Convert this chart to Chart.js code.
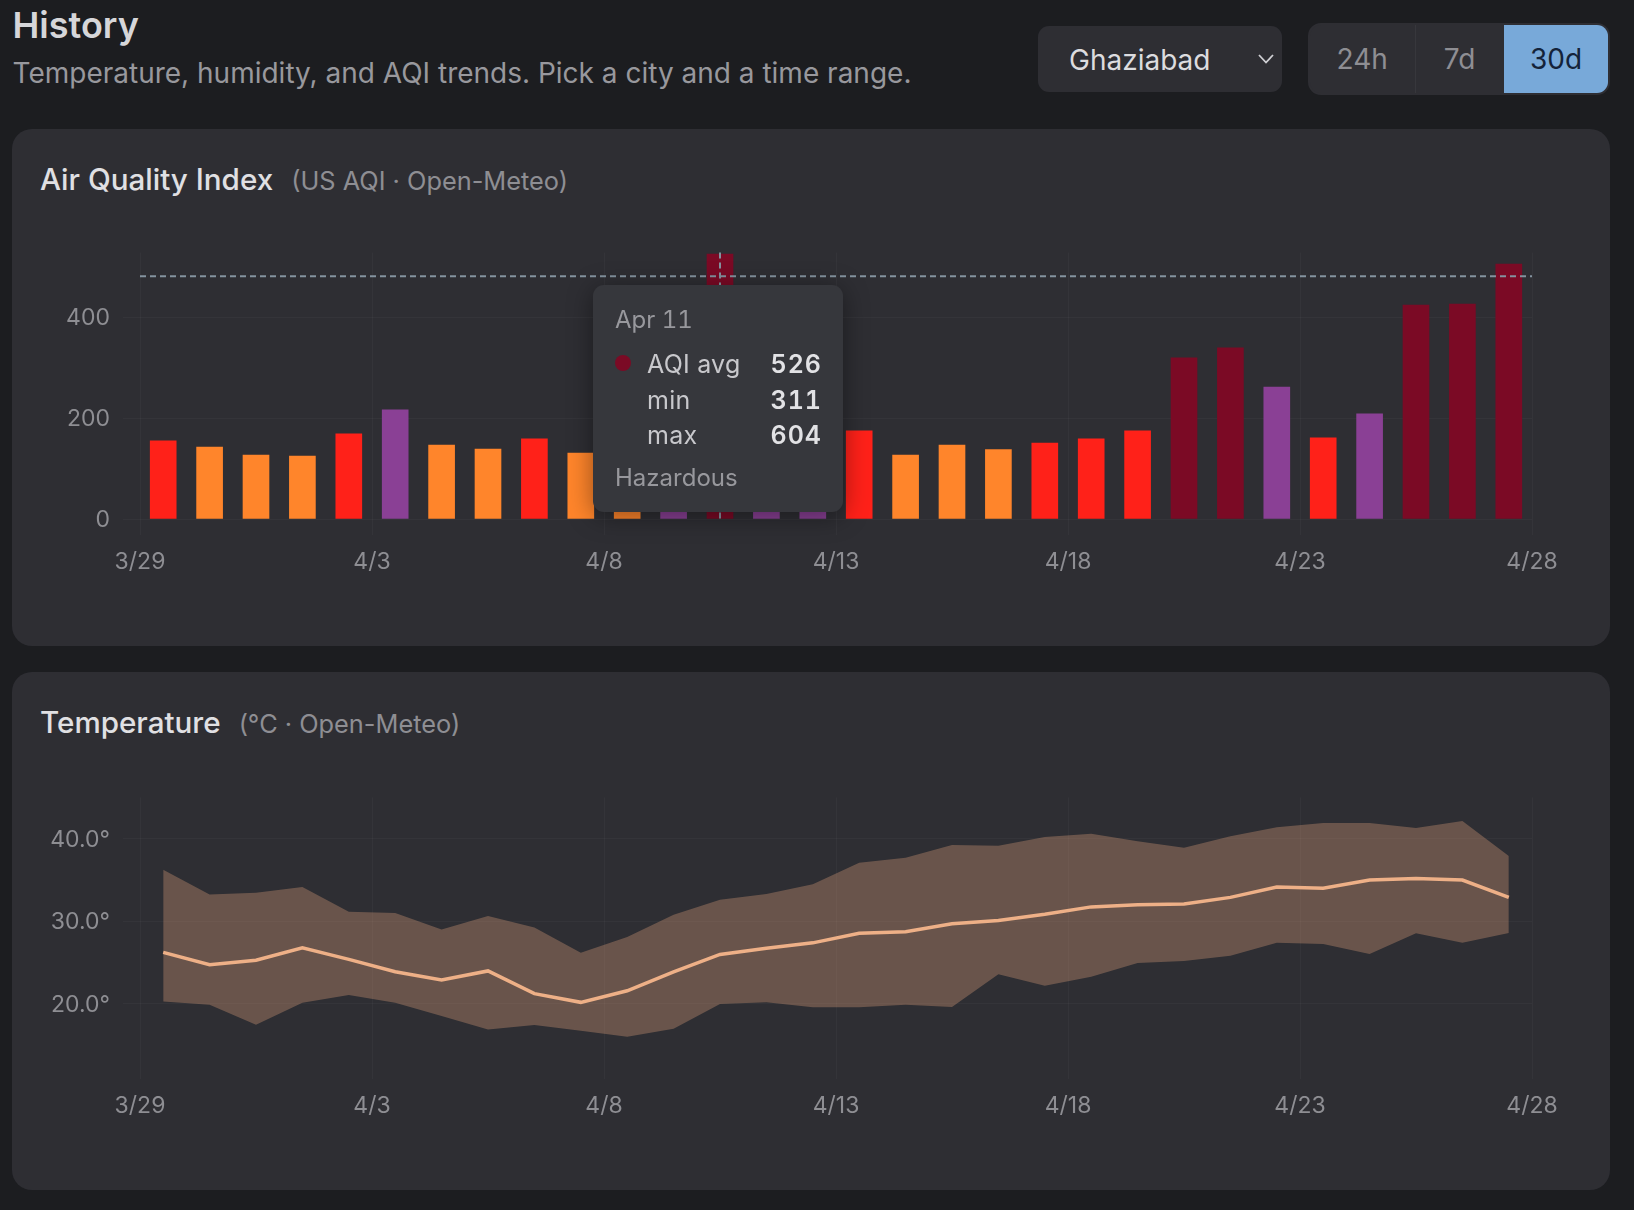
<!DOCTYPE html>
<html><head><meta charset="utf-8">
<style>
*{box-sizing:border-box}
html,body{margin:0;padding:0;width:1634px;height:1210px;background:#1c1d20;overflow:hidden;font-family:Inter,"Noto Sans",sans-serif}
h1{position:absolute;margin:0;left:12.5px;top:3px;font-size:36px;line-height:44px;font-weight:600;color:#d6d6d9}
.sub{position:absolute;left:12.5px;top:54px;font-size:28px;line-height:38px;color:#98989d;white-space:nowrap}
.sel{position:absolute;left:1038px;top:26px;width:244px;height:66px;border-radius:11px;background:#2e2e33;color:#dcdcdf;font-size:28px;line-height:68px;padding-left:31px}
.sel svg{position:absolute;left:219px;top:26px}
.seg{position:absolute;left:1308px;top:23px;width:302px;height:72px;border-radius:13px;background:#2e2e33;border:2px solid #2e2e33;overflow:hidden}
.seg div{position:absolute;top:0;height:68px;line-height:68px;text-align:center;font-size:28px;color:#8e8e93}
.card{position:absolute;left:12px;width:1598px;border-radius:20px;background:#2e2e33}
.ttl{position:absolute;left:28px;font-size:29.6px;font-weight:500;color:#e0e0e3;line-height:38px;white-space:nowrap}
.ttl span{font-size:25.35px;font-weight:400;color:#8e8e93;margin-left:18px}
canvas{position:absolute;left:0}
#tip{position:absolute;left:593px;top:285px;width:250px;height:227px;border-radius:11px;background:#36373c;box-shadow:0 4px 26px rgba(0,0,0,.42);color:#98989d;font-size:24px;font-variant-numeric:tabular-nums}
#tip div{position:absolute;white-space:nowrap;line-height:30px}
</style>
<script src="https://cdn.jsdelivr.net/npm/chart.js@4"></script>
</head><body>
<h1>History</h1>
<div class="sub">Temperature, humidity, and AQI trends. Pick a city and a time range.</div>
<div class="sel">Ghaziabad<svg width="18" height="14" viewBox="0 0 18 14"><path d="M2 3 L9 10.5 L16 3" fill="none" stroke="#cfcfd3" stroke-width="1.8"/></svg></div>
<div class="seg">
 <div style="left:0;width:104.5px">24h</div>
 <div style="left:104.5px;width:1px;background:#37373c"></div>
 <div style="left:105px;width:89px">7d</div>
 <div style="left:194px;width:104px;background:#78a9d9;color:#14233a">30d</div>
</div>

<div class="card" style="top:129px;height:517px">
 <div class="ttl" style="top:31px">Air Quality Index<span>(US AQI · Open-Meteo)</span></div>
</div>
<div class="card" style="top:672px;height:518px">
 <div class="ttl" style="top:31px">Temperature<span>(°C · Open-Meteo)</span></div>
</div>
<canvas id="aqi" style="position:absolute;left:12px;top:200px;width:1598px;height:400px" width="1598" height="400"></canvas>
<canvas id="temp" style="position:absolute;left:12px;top:743px;width:1598px;height:400px" width="1598" height="400"></canvas>
<div id="tip"></div>

<script>
const xTickLabels = ['3/29','4/3','4/8','4/13','4/18','4/23','4/28'];
const xTickValues = [0,5,10,15,20,25,30];
const aqiTicks = [0,200,400];
const tempTicks = [20,30,40];
const aqiAvg = [155,143,127,125,169,217,147,139,159,131,135,240,526,235,225,175,127,147,138,151,159,175,320,340,262,161,209,425,427,506];
const tempAvg = [26.25,24.75,25.3,26.8,25.4,23.9,22.9,24.0,21.25,20.2,21.6,23.9,26.0,26.75,27.4,28.55,28.75,29.7,30.1,30.85,31.75,32.0,32.1,32.9,34.15,34.0,35.0,35.2,35.0,32.9];
const tempMax = [36.25,33.25,33.45,34.15,31.15,31.0,29.0,30.65,29.25,26.2,28.1,30.8,32.6,33.3,34.5,37.1,37.7,39.25,39.15,40.2,40.6,39.7,38.9,40.3,41.4,41.9,41.9,41.3,42.15,37.9];
const tempMin = [20.3,19.9,17.5,20.15,21.1,20.15,18.55,16.9,17.45,16.75,16.05,17.0,20.0,20.2,19.6,19.6,19.9,19.65,23.6,22.2,23.3,24.95,25.2,25.85,27.4,27.25,26.05,28.55,27.4,28.6];
const tooltipTitle = 'Apr 11';
const tooltipRows = [['AQI avg','526'],['min','311'],['max','604']];
const tooltipFooter = 'Hazardous';
const hoverIndex = 12;
const crosshairAqi = 482;

const bandColor = v => v<=150?'#ff852b':v<=200?'#ff2119':v<=300?'#8a4095':'#7b0a25';
const tickFont = {family:'Inter',size:23};
const gridColor = 'rgba(255,255,255,0.03)';
const pts = arr => arr.map((y,i)=>({x:i+0.5,y}));

function xAxis(h){return {type:'linear',offset:false,min:0,max:30,
  afterBuildTicks:s=>{s.ticks=xTickValues.map(value=>({value}))},
  afterFit:s=>{s.height=h},
  grid:{color:gridColor,tickColor:gridColor,tickLength:16,offset:false},border:{display:false},
  ticks:{color:'#8e8e93',font:tickFont,padding:13,maxRotation:0,autoSkip:false,callback:v=>xTickLabels[xTickValues.indexOf(v)]}};}
function yAxis(min,max,ticks,fmt){return {type:'linear',min,max,
  afterBuildTicks:s=>{s.ticks=ticks.map(value=>({value}))},
  afterFit:s=>{s.width=128},
  grid:{color:gridColor,tickColor:gridColor,tickLength:17},border:{display:false},
  ticks:{color:'#8e8e93',font:tickFont,padding:13,labelOffset:1,callback:fmt}};}
const baseOpts = {responsive:false,animation:false,events:[],
  layout:{padding:{left:0,right:78,top:52.6,bottom:0}},
  plugins:{legend:{display:false},tooltip:{enabled:false}}};

const crosshair = {id:'crosshair',afterDatasetsDraw(c){
  const {ctx,chartArea:a,scales:{x,y}}=c;
  const px=x.getPixelForValue(hoverIndex+0.5),py=y.getPixelForValue(crosshairAqi);
  ctx.save();ctx.strokeStyle='#84939f';ctx.lineWidth=2;ctx.setLineDash([6,4]);
  ctx.beginPath();ctx.moveTo(a.left,py);ctx.lineTo(a.right,py);ctx.stroke();
  ctx.beginPath();ctx.moveTo(px,a.top);ctx.lineTo(px,a.bottom);ctx.stroke();
  ctx.restore();}};

new Chart(document.getElementById('aqi'),{type:'bar',plugins:[crosshair],
  data:{datasets:[{data:pts(aqiAvg),backgroundColor:aqiAvg.map(bandColor),barThickness:26,borderWidth:0}]},
  options:{...baseOpts,scales:{x:xAxis(81),y:yAxis(0,529,aqiTicks,v=>String(v))}}});

new Chart(document.getElementById('temp'),{type:'line',
  data:{datasets:[
   {data:pts(tempMax),fill:'+1',backgroundColor:'rgba(238,172,130,0.31)',borderWidth:0,pointRadius:0,tension:0},
   {data:pts(tempMin),fill:false,borderWidth:0,pointRadius:0,tension:0},
   {data:pts(tempAvg),fill:false,borderColor:'#eeb28a',borderWidth:3.5,pointRadius:0,tension:0}]},
  options:{...baseOpts,layout:{padding:{left:0,right:78,top:54.4,bottom:0}},
   scales:{x:xAxis(80),y:yAxis(12.86,45,tempTicks,v=>v.toFixed(1)+'°')}}});

const tip=document.getElementById('tip');
const add=(l,t,txt,css)=>{const d=document.createElement('div');d.textContent=txt;d.style.cssText=`left:${l}px;top:${t}px;${css||''}`;tip.appendChild(d);};
add(22,20,tooltipTitle,'font-size:24px');
const dot=document.createElement('div');dot.style.cssText=`left:22px;top:70px;width:16px;height:16px;border-radius:50%;background:${bandColor(aqiAvg[hoverIndex])}`;tip.appendChild(dot);
const rowTops=[64,100,135];
tooltipRows.forEach((r,i)=>{
  add(54,rowTops[i],r[0],'font-size:25px;color:#c8c8cc;letter-spacing:.3px');
  add(0,rowTops[i],r[1],'left:auto;right:21px;font-size:25px;color:#e2e2e5;font-weight:600;letter-spacing:1px');
});
add(22,178,tooltipFooter,'');
</script>
</body></html>
